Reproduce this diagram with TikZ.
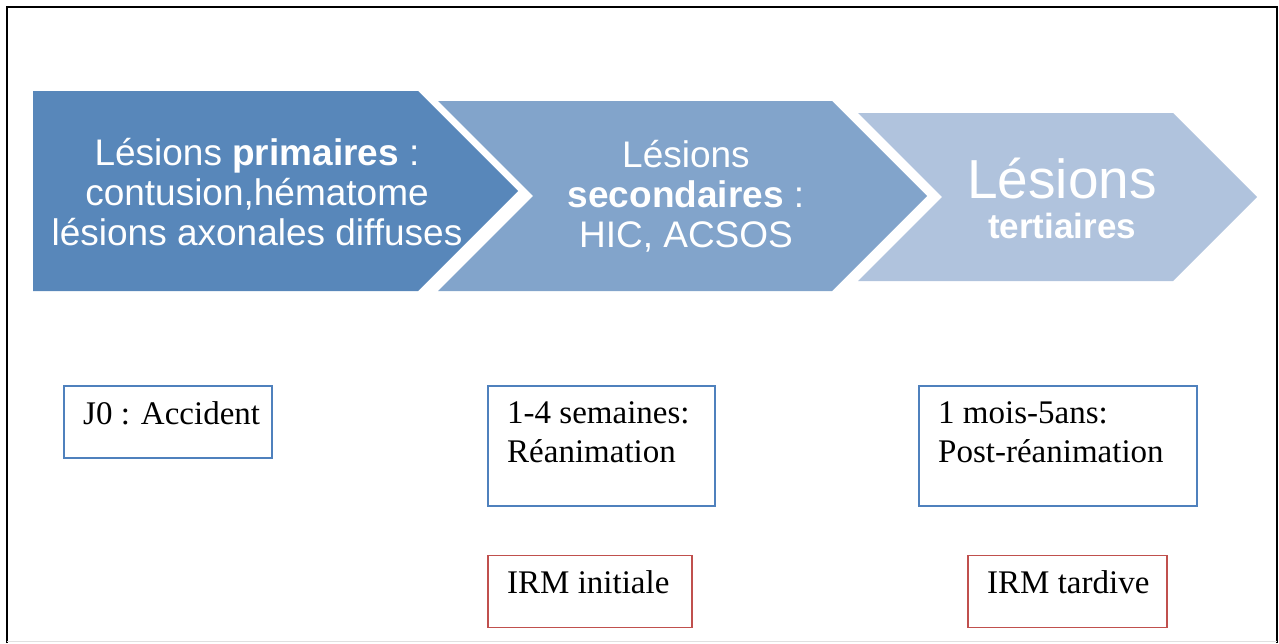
\documentclass[tikz,border=0pt]{standalone}
\usepackage{fontspec}
\newfontfamily\arialfont{Liberation Sans}
\newfontfamily\timesfont{Liberation Serif}
\usetikzlibrary{positioning}

\definecolor{primblue}{RGB}{88,135,186}
\definecolor{secblue}{RGB}{130,164,203}
\definecolor{terblue}{RGB}{176,195,221}
\definecolor{boxblue}{RGB}{79,129,189}
\definecolor{boxred}{RGB}{192,80,77}

\tikzset{
  lesion/.style={text=white, align=center, inner sep=0pt, font=\arialfont\fontsize{37}{40}\selectfont},
  periode/.style={draw=boxblue, line width=1.5pt, inner sep=0pt, anchor=north west},
  examen/.style={draw=boxred, line width=1.5pt, inner sep=0pt},
  boxtext/.style={anchor=north west, inner sep=0pt, align=left, font=\timesfont\fontsize{33}{39}\selectfont},
}

\begin{document}
\begin{tikzpicture}[x=1pt,y=-1pt]
	\useasboundingbox (0,0) rectangle (1279,643);
	% frame
	\draw[line width=2pt] (7,643) -- (7,7) -- (1277,7) -- (1277,643);
	\draw[black!12, line width=1.5pt] (7,641.5) -- (1277,641.5);

	% chevrons
	\fill[primblue] (33,91) -- (418,91) -- (518,191) -- (418,291) -- (33,291) -- cycle;
	\fill[secblue] (438,101) -- (832,101) -- (927,196) -- (832,291) -- (438,291) -- (533,196) -- cycle;
	\fill[terblue] (858,113) -- (1173,113) -- (1257,197) -- (1173,281) -- (858,281) -- (942,197) -- cycle;

	\node[lesion] (prim) at (257,192) {Lésions \textbf{primaires} :\\contusion,hématome\\lésions axonales diffuses};
	\node[lesion] (sec) at (686,196) {Lésions\\\textbf{secondaires} :\\HIC, ACSOS};
	\node[lesion, anchor=base, font=\arialfont\fontsize{55}{60}\selectfont] (ter) at (1062,198) {Lésions};
	\node[lesion, anchor=base, font=\arialfont\bfseries\fontsize{35}{40}\selectfont] (tertxt) at (1062,238) {tertiaires};

	% periods
	\node[periode, minimum width=208pt, minimum height=72pt] (acc) at (63,385) {};
	\node[boxtext] (acctxt) at ([shift={(20,16)}]acc.north west) {J0 : Accident};

	\node[periode, minimum width=227pt, minimum height=120pt] (rea) at (487,385) {};
	\node[boxtext] (reatxt) at ([shift={(20,16)}]rea.north west) {1-4 semaines:\\Réanimation};

	\node[periode, minimum width=278pt, minimum height=120pt] (post) at (918,385) {};
	\node[boxtext] (posttxt) at ([shift={(20,16)}]post.north west) {1 mois-5ans:\\Post-réanimation};

	% imaging
	\node[examen, minimum width=204pt, minimum height=72pt, below=48pt of rea.south west, anchor=north west] (ini) {};
	\node[boxtext] (initxt) at ([shift={(20,16)}]ini.north west) {IRM initiale};

	\node[examen, minimum width=199pt, minimum height=72pt, below=48pt of post.south west, anchor=north west, xshift=49pt] (tard) {};
	\node[boxtext] (tardtxt) at ([shift={(20,16)}]tard.north west) {IRM tardive};
\end{tikzpicture}
\end{document}
